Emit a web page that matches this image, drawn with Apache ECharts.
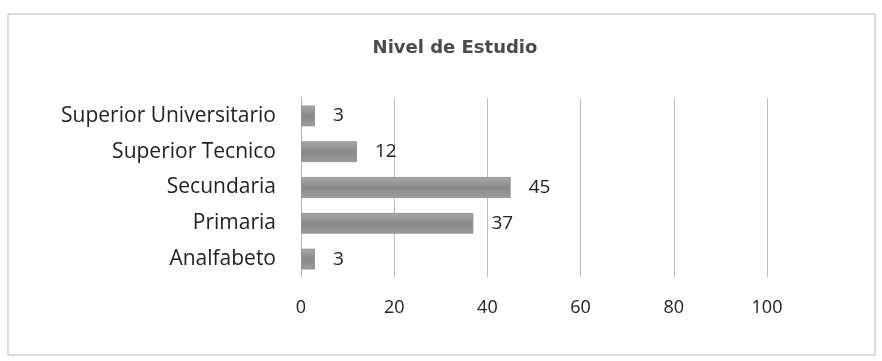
<!DOCTYPE html>
<html>
<head>
<meta charset="utf-8">
<script src="https://cdn.jsdelivr.net/npm/echarts@6/dist/echarts.min.js"></script>
<style>
html,body{margin:0;padding:0;background:#fff;}
#chart{width:882px;height:361px;}
</style>
</head>
<body>
<div id="chart"></div>
<script>
const titleText = "Nivel de Estudio";
const categories = ["Analfabeto", "Primaria", "Secundaria", "Superior Tecnico", "Superior Universitario"];
const values = [3, 37, 45, 12, 3];
const xTicks = [0, 20, 40, 60, 80, 100];

const chart = echarts.init(document.getElementById('chart'));
chart.setOption({
  animation: false,
  backgroundColor: '#ffffff',
  graphic: [{
    type: 'rect',
    shape: {x: 8, y: 14, width: 867, height: 341},
    style: {fill: 'none', stroke: '#b8b8b8', lineWidth: 1},
    silent: true
  }],
  title: {
    text: titleText,
    left: 450,
    textAlign: 'center',
    top: 34,
    textStyle: {fontFamily: 'DejaVu Sans', fontSize: 18, fontWeight: 'bold', color: '#4a4a4a'}
  },
  grid: {left: 301, right: 115, top: 98, bottom: 84, containLabel: false},
  xAxis: {
    type: 'value',
    min: xTicks[0],
    max: xTicks[xTicks.length - 1],
    interval: 20,
    axisLine: {show: false},
    axisTick: {show: false},
    splitLine: {show: true, lineStyle: {color: '#bdbdbd', width: 1}},
    axisLabel: {margin: 22, fontFamily: 'Open Sans', fontSize: 18, color: '#222'}
  },
  yAxis: {
    type: 'category',
    data: categories,
    axisLine: {show: true, lineStyle: {color: '#b0b0b0'}},
    axisTick: {show: false},
    axisLabel: {margin: 25, fontFamily: 'Open Sans', fontSize: 21, color: '#222'}
  },
  series: [{
    type: 'bar',
    data: values,
    barWidth: '58%',
    itemStyle: {
      color: new echarts.graphic.LinearGradient(0, 0, 0, 1, [
        {offset: 0, color: '#aaaaaa'},
        {offset: 0.5, color: '#888888'},
        {offset: 1, color: '#9c9c9c'}
      ]),
      borderColor: '#939393',
      borderWidth: 1
    },
    label: {show: true, position: 'right', distance: 18, fontFamily: 'Open Sans', fontSize: 19, color: '#222'}
  }]
});
</script>
</body>
</html>
